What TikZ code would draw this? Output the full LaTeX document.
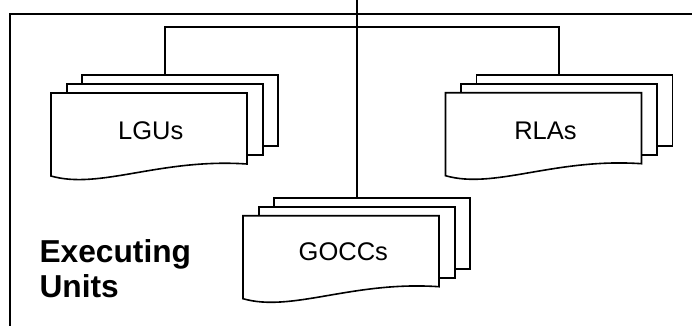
\documentclass[tikz,border=0pt]{standalone}
\usepackage{fontspec}
\setmainfont{Liberation Sans}
\begin{document}
\begin{tikzpicture}[x=1pt,y=-1pt,
  line/.style={line width=1.6pt, line join=miter},
  frame/.style={line width=1.9pt},
  card/.style={draw, fill=white, line width=1.6pt, minimum width=196pt, minimum height=71pt, inner sep=0pt, outer sep=0pt, anchor=north west},
  front/.style={draw, fill=white, line width=1.6pt, line join=miter},
  lbl/.style={font=\fontsize{25.5}{30}\selectfont, inner sep=0pt, anchor=base},
  title/.style={font=\bfseries\fontsize{31.7}{35}\selectfont, inner sep=0pt, align=left, anchor=base west}]
\useasboundingbox (0,0) rectangle (692,325);

% outer frame
\coordinate (fbl) at (10,326);
\coordinate (ftl) at (10,14);
\coordinate (ftr) at (693,14);
\draw[frame] (fbl) -- (ftl) -- (ftr);

% card stacks
\newcommand{\cardstack}[6]{%
  \node[card] (#1b) at (#2+31,#3-18) {};
  \node[card] (#1m) at (#2+15.7,#3-9) {};
  \draw[front] (#2,#3) -- (#2+196,#3) -- (#2+196,#3+71)
     .. controls (#2+109,#3+65) and (#2+49,#3+97) .. (#2,#3+83) -- cycle;
  \node[lbl] (#1t) at (#5,#6) {#4};
}
\cardstack{lgu}{51}{93}{LGUs}{150.8}{139.3}
\cardstack{rla}{445.5}{92.7}{RLAs}{545.5}{139.3}
\cardstack{goc}{243}{215.7}{GOCCs}{343.3}{260.7}

% connectors
\coordinate (top) at (356.2,-1);
\coordinate (bus) at (0,26.7);
\draw[line] (lgum.center |- lgub.north) -- (lgum.center |- bus) -- (rlam.center |- bus) -- (rlam.center |- rlab.north);
\draw[line] (gocm.center |- top) -- (gocm.center |- gocb.north);

% title
\node[title] (eu) at (39.4,297.7) {Executing\\Units};
\end{tikzpicture}
\end{document}
